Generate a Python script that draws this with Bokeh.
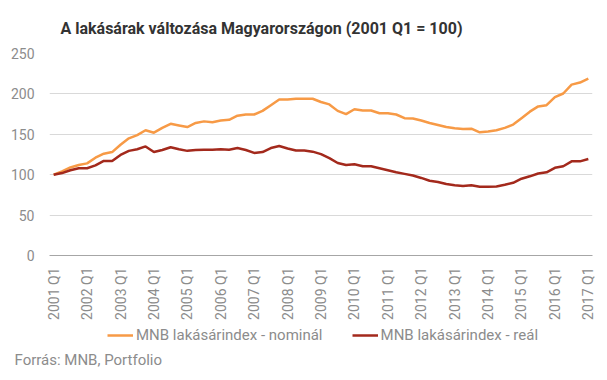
import math
from bokeh.plotting import figure
from bokeh.layouts import column
from bokeh.models import (ColumnDataSource, FixedTicker, Legend, LegendItem, Range1d, Label)
from bokeh.embed import file_html
from bokeh.resources import INLINE

# Quarterly index, 2001 Q1 .. 2017 Q1 (2001 Q1 = 100)
nominal = [100, 104, 109, 112, 114, 121, 126, 128, 137, 145, 149, 155, 152, 158, 163, 161,
           159, 164, 166, 165, 167, 168, 173, 174.5, 174.5, 179, 186, 193, 193, 194, 194, 194,
           190, 187, 179, 175, 181, 179.5, 179.5, 176, 176, 174.5, 170, 169.5, 167, 164, 161.5, 159,
           157.5, 156.5, 157, 152.5, 153.5, 155, 158, 162, 170, 178, 184.5, 186, 196, 200.5,
           211.5, 214, 219]
real = [100, 102, 105.5, 108, 108, 111.5, 117, 117, 124.5, 129.5, 131.5, 135, 128, 130.5, 134, 131.5,
        129.5, 130.5, 131, 131, 131.5, 131, 133, 130.5, 127, 128, 133, 135.5, 132.5, 130, 130, 128.5,
        125.5, 120.5, 114.5, 112, 113, 110.5, 110.5, 108, 105.5, 103, 101, 99, 96, 92.5, 91, 88.5,
        87, 86, 87, 85, 85, 85.5, 87.5, 90, 95, 98, 101.5, 103, 108.5, 110.5,
        116.5, 116.5, 119.5]
tick_labels = ["2001 Q1", "2002 Q1", "2003 Q1", "2004 Q1", "2005 Q1", "2006 Q1", "2007 Q1",
               "2008 Q1", "2009 Q1", "2010 Q1", "2011 Q1", "2012 Q1", "2013 Q1", "2014 Q1",
               "2015 Q1", "2016 Q1", "2017 Q1"]
y_ticks = [0, 50, 100, 150, 200, 250]
series_names = ["MNB lakásárindex - nominál", "MNB lakásárindex - reál"]
title_text = "A lakásárak változása Magyarországon (2001 Q1 = 100)"
source_text = "Forrás: MNB, Portfolio"

idx = list(range(len(nominal)))
src = ColumnDataSource(data=dict(x=idx, nominal=nominal, real=real))

FONT = "Roboto"
ORANGE = "#F79A46"
DARKRED = "#A3291C"
GRAY = "#8C8C8C"


def strip(h):
    """A plain strip (no axes) whose data units are pixels."""
    s = figure(frame_width=607, frame_height=h, output_backend="svg", toolbar_location=None,
               x_range=Range1d(0, 607), y_range=Range1d(0, h),
               x_axis_location=None, y_axis_location=None, title=None,
               min_border_left=0, min_border_right=0, min_border_top=0, min_border_bottom=0)
    if "frame_align" in s.properties():
        s.frame_align = False
    s.grid.visible = False
    s.outline_line_color = None
    s.background_fill_color = "white"
    s.border_fill_color = "white"
    return s


# header strip with the title
hdr = strip(40)
hdr.add_layout(Label(x=60, y=11.7, text=title_text, text_align="left", text_baseline="alphabetic",
                     text_font=FONT, text_font_style="bold", text_font_size="16px",
                     text_color="#333333"))

# main chart
p = figure(width=607, height=285, output_backend="svg", toolbar_location=None, title=None,
           x_range=Range1d(-0.5, len(idx) - 0.5), y_range=Range1d(0, 250),
           min_border_left=49, min_border_right=15, min_border_top=13, min_border_bottom=70)
p.outline_line_color = None
p.background_fill_color = "white"
p.border_fill_color = "white"

p.line("x", "nominal", source=src, line_color=ORANGE, line_width=2.5)
p.line("x", "real", source=src, line_color=DARKRED, line_width=2.5)

tick_pos = [i * 4 for i in range(len(tick_labels))]
p.xaxis.ticker = FixedTicker(ticks=tick_pos)
p.xaxis.major_label_overrides = {t: l for t, l in zip(tick_pos, tick_labels)}
p.xaxis.major_label_orientation = math.pi / 2
p.xaxis.major_tick_out = 0
p.xaxis.major_tick_in = 0
p.xaxis.minor_tick_out = 0
p.xaxis.minor_tick_in = 0
p.xaxis.major_label_standoff = 12
p.xaxis.axis_line_color = "#A6A6A6"
p.xaxis.axis_line_width = 1
p.xaxis.major_label_text_font = FONT
p.xaxis.major_label_text_font_size = "14px"
p.xaxis.major_label_text_color = GRAY
p.xgrid.grid_line_color = None

p.yaxis.ticker = FixedTicker(ticks=y_ticks)
p.yaxis.axis_line_color = None
p.yaxis.major_tick_out = 0
p.yaxis.major_tick_in = 0
p.yaxis.minor_tick_out = 0
p.yaxis.minor_tick_in = 0
p.yaxis.major_label_standoff = 15
p.yaxis.major_label_text_font = FONT
p.yaxis.major_label_text_font_size = "14px"
p.yaxis.major_label_text_color = GRAY
p.ygrid.ticker = FixedTicker(ticks=y_ticks)
p.ygrid.grid_line_color = "#D9D9D9"
p.ygrid.grid_line_width = 1

# footer strip: legend + source
ftr = strip(55)
# same series, lying outside this strip's y-range: only their legend glyphs show
g1 = ftr.line("x", "nominal", source=src, line_color=ORANGE, line_width=2.5)
g2 = ftr.line("x", "real", source=src, line_color=DARKRED, line_width=2.5)

legend = Legend(items=[LegendItem(label=series_names[0], renderers=[g1]),
                       LegendItem(label=series_names[1], renderers=[g2])],
                location=(107, 35), orientation="horizontal",
                glyph_width=26, glyph_height=20, label_standoff=3, spacing=29,
                padding=0, margin=0, border_line_color=None, background_fill_alpha=0,
                label_text_font=FONT, label_text_font_size="15px", label_text_color=GRAY)
ftr.add_layout(legend, "center")

ftr.add_layout(Label(x=14, y=20.5, text=source_text,
                     text_align="left", text_baseline="alphabetic",
                     text_font=FONT, text_font_size="15px", text_color=GRAY))

layout = column(hdr, p, ftr, spacing=0)
open("out.html", "w").write(file_html(layout, INLINE))
